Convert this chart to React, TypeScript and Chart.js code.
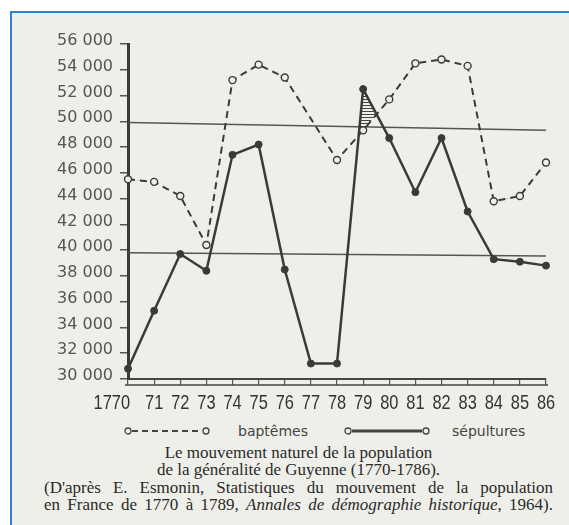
import React, { useEffect, useRef } from "react";
import { Chart, registerables } from "chart.js";

Chart.register(...registerables);

const annees = ["1770", "71", "72", "73", "74", "75", "76", "77", "78", "79", "80", "81", "82", "83", "84", "85", "86"];
const baptemes = [45500, 45300, 44200, 40400, 53200, 54400, 53400, null, 47000, 49300, 51700, 54500, 54800, 54300, 43800, 44200, 46800];
const sepultures = [30800, 35300, 39700, 38400, 47400, 48200, 38500, 31200, 31200, 52500, 48700, 44500, 48700, 43000, 39300, 39100, 38800];
const ligneHaute = [49900, null, null, null, null, null, null, null, null, null, null, null, null, null, null, null, 49300];
const ligneBasse = [39800, null, null, null, null, null, null, null, null, null, null, null, null, null, null, null, 39550];
const yMin = 30000;
const yMax = 56000;
const yStep = 2000;

const INK = "#3a3a3a";
const PAPER = "#efefe9";

function formatMille(v: number) {
  return String(v).replace(/\B(?=(\d{3})+(?!\d))/g, " ");
}

const rulerPlugin = {
  id: "ruler",
  afterDraw(chart: any) {
    const { ctx, chartArea } = chart;
    ctx.save();
    ctx.strokeStyle = "#444";
    ctx.lineWidth = 1.5;
    ctx.beginPath();
    ctx.moveTo(chartArea.left - 3, chartArea.bottom + 6);
    ctx.lineTo(chartArea.right + 2, chartArea.bottom + 6);
    ctx.stroke();
    ctx.restore();
  },
};

// Narrow (condensed) year labels, positioned by the x scale.
const yearLabelsPlugin = {
  id: "yearLabels",
  afterDraw(chart: any) {
    const { ctx, chartArea } = chart;
    const xs = chart.scales.x;
    const y = chartArea.bottom + 24;
    const sx = 0.78;
    annees.forEach((lab, i) => {
      const x = xs.getPixelForTick(i);
      ctx.save();
      ctx.translate(x, y);
      ctx.scale(sx, 1);
      ctx.fillStyle = "#333";
      ctx.textBaseline = "middle";
      ctx.font = "21px 'Liberation Sans', 'DejaVu Sans', sans-serif";
      if (i === 0) {
        ctx.textAlign = "right";
        ctx.fillText(lab, 2 / sx, 0);
      } else {
        ctx.textAlign = "center";
        ctx.fillText(lab, 0, 0);
      }
      ctx.restore();
    });
  },
};

function makeHatch(): CanvasPattern | string {
  const c = document.createElement("canvas");
  c.width = 6;
  c.height = 3;
  const g = c.getContext("2d");
  if (!g) return "rgba(60,60,60,0.4)";
  g.fillStyle = "#444";
  g.fillRect(0, 0, 6, 1);
  const p = g.createPattern(c, "repeat");
  return p || "rgba(60,60,60,0.4)";
}

function LegendMarker({ dashed }: { dashed: boolean }) {
  return (
    <svg width="86" height="12" style={{ display: "block" }}>
      <line
        x1="8"
        y1="6"
        x2="78"
        y2="6"
        stroke="#444"
        strokeWidth={dashed ? 2 : 3}
        strokeDasharray={dashed ? "6 4" : undefined}
      />
      <circle cx="4" cy="6" r="3" fill={PAPER} stroke="#444" strokeWidth="1.3" />
      <circle cx="82" cy="6" r="3" fill={PAPER} stroke="#444" strokeWidth="1.3" />
    </svg>
  );
}

export default function App() {
  const canvasRef = useRef<HTMLCanvasElement | null>(null);

  useEffect(() => {
    if (!canvasRef.current) return;
    const hatch = makeHatch();
    const chart = new Chart(canvasRef.current, {
      type: "line",
      data: {
        labels: annees,
        datasets: [
          {
            label: "baptêmes",
            data: baptemes,
            borderColor: INK,
            borderWidth: 2,
            borderDash: [7, 5],
            spanGaps: true,
            tension: 0,
            pointRadius: 3.5,
            pointBackgroundColor: PAPER,
            pointBorderColor: INK,
            pointBorderWidth: 1.4,
            fill: false,
          },
          {
            label: "sépultures",
            data: sepultures,
            borderColor: INK,
            borderWidth: 2.5,
            tension: 0,
            pointRadius: 3.5,
            pointBackgroundColor: INK,
            pointBorderColor: INK,
            pointBorderWidth: 1,
            fill: { target: 0, above: hatch as any, below: "rgba(0,0,0,0)" },
          },
          {
            label: "ligne haute",
            data: ligneHaute,
            borderColor: "#555",
            borderWidth: 1.5,
            spanGaps: true,
            pointRadius: 0,
            fill: false,
          },
          {
            label: "ligne basse",
            data: ligneBasse,
            borderColor: "#555",
            borderWidth: 1.5,
            spanGaps: true,
            pointRadius: 0,
            fill: false,
          },
        ],
      },
      options: {
        animation: false,
        responsive: false,
        maintainAspectRatio: false,
        layout: { padding: { top: 44, right: 23, left: 0, bottom: 0 } },
        plugins: {
          legend: { display: false },
          tooltip: { enabled: false },
        },
        scales: {
          x: {
            type: "category",
            offset: false,
            afterFit: (scale: any) => {
              scale.height = 41;
            },
            grid: {
              display: true,
              drawOnChartArea: false,
              drawTicks: true,
              tickLength: 6,
              color: "#555",
              lineWidth: 1.2,
            },
            border: { display: true, color: "#444", width: 2 },
            ticks: {
              display: false,
              autoSkip: false,
              maxRotation: 0,
              minRotation: 0,
            },
          },
          y: {
            min: yMin,
            max: yMax,
            afterFit: (scale: any) => {
              scale.width = 128;
            },
            grid: {
              display: true,
              drawOnChartArea: false,
              drawTicks: true,
              tickLength: 8,
              color: "#555",
              lineWidth: 1.5,
            },
            border: { display: true, color: INK, width: 3 },
            ticks: {
              stepSize: yStep,
              padding: 7,
              labelOffset: -3,
              color: "#555",
              font: { family: "'DejaVu Sans', sans-serif", size: 16 },
              callback: (v: any) => formatMille(Number(v)),
            },
          },
        },
      },
      plugins: [rulerPlugin, yearLabelsPlugin],
    });
    return () => chart.destroy();
  }, []);

  const legendText: React.CSSProperties = {
    position: "absolute",
    top: 422,
    fontFamily: "'DejaVu Sans', sans-serif",
    fontSize: 14,
    color: "#444",
    lineHeight: "18px",
    whiteSpace: "nowrap",
  };

  const capLine: React.CSSProperties = {
    height: "17.3px",
    lineHeight: "17.3px",
    whiteSpace: "nowrap",
  };

  return (
    <div
      style={{
        position: "absolute",
        left: 0,
        top: 0,
        width: 569,
        height: 525,
        background: "#ffffff",
        overflow: "hidden",
      }}
    >
      <div
        style={{
          position: "absolute",
          left: 10,
          top: 11,
          right: 0,
          bottom: 0,
          borderLeft: "2px solid #2f82d6",
          borderTop: "2px solid #2f82d6",
          background: PAPER,
        }}
      />
      <div style={{ position: "absolute", left: 0, top: 0, width: 569, height: 420 }}>
        <canvas ref={canvasRef} width={569} height={420} style={{ display: "block", width: 569, height: 420 }} />
      </div>
      <div style={{ position: "absolute", left: 124, top: 425 }}>
        <LegendMarker dashed={true} />
      </div>
      <div style={{ ...legendText, left: 238 }}>baptêmes</div>
      <div style={{ position: "absolute", left: 344, top: 425 }}>
        <LegendMarker dashed={false} />
      </div>
      <div style={{ ...legendText, left: 452 }}>sépultures</div>
      <div
        style={{
          position: "absolute",
          left: 44,
          top: 444,
          width: 509,
          fontFamily: "'Liberation Serif', 'Times New Roman', serif",
          fontSize: 17,
          color: "#2a2a2a",
        }}
      >
        <div style={{ ...capLine, textAlign: "center" }}>Le mouvement naturel de la population</div>
        <div style={{ ...capLine, textAlign: "center" }}>de la généralité de Guyenne (1770-1786).</div>
        <div style={{ ...capLine, textAlign: "justify", textAlignLast: "justify", whiteSpace: "normal" }}>
          (D'après E. Esmonin, Statistiques du mouvement de la population
        </div>
        <div style={{ ...capLine, textAlign: "justify", textAlignLast: "justify", whiteSpace: "normal" }}>
          en France de 1770 à 1789, <i>Annales de démographie historique</i>, 1964).
        </div>
      </div>
    </div>
  );
}
